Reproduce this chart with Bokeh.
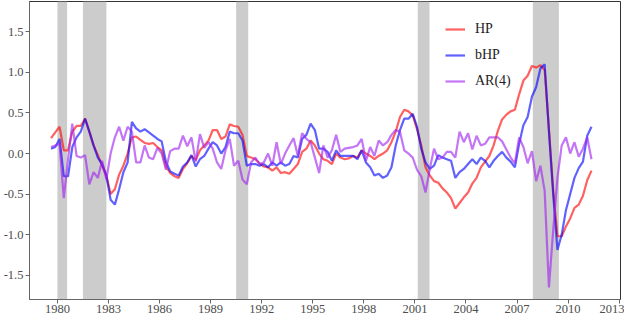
import pandas as pd
from bokeh.plotting import figure
from bokeh.models import BoxAnnotation, FixedTicker, Range1d, PrintfTickFormatter, Legend, LegendItem
from bokeh.embed import file_html
from bokeh.resources import INLINE

# quarterly observations 1979Q3 .. 2011Q2
quarters = pd.period_range("1979Q3", "2011Q2", freq="Q")
t = list(quarters.year + (quarters.quarter - 1) / 4 + 0.125)

hp = [0.19, 0.26, 0.33, 0.04, 0.04, 0.27, 0.34, 0.34, 0.43, 0.27,
      0.10, -0.02, -0.15, -0.27, -0.50, -0.44, -0.26, -0.15, 0.00, 0.20,
      0.21, 0.17, 0.13, 0.12, 0.13, 0.08, 0.04, -0.16, -0.24, -0.28,
      -0.30, -0.19, -0.12, -0.03, -0.08, 0.04, 0.10, 0.16, 0.29, 0.29,
      0.18, 0.21, 0.36, 0.34, 0.33, 0.23, -0.03, -0.05, -0.07, -0.12,
      -0.16, -0.17, -0.21, -0.17, -0.24, -0.23, -0.25, -0.19, -0.13, 0.02,
      0.06, 0.16, 0.10, 0.00, -0.07, -0.09, -0.13, 0.00, -0.05, -0.07,
      -0.06, -0.03, -0.05, 0.04, 0.00, -0.03, -0.07, -0.03, 0.00, 0.04,
      0.14, 0.27, 0.45, 0.54, 0.52, 0.47, 0.30, 0.10, -0.17, -0.27,
      -0.34, -0.36, -0.43, -0.48, -0.55, -0.68, -0.61, -0.54, -0.48, -0.37,
      -0.30, -0.17, -0.10, -0.03, 0.10, 0.28, 0.42, 0.48, 0.52, 0.54,
      0.73, 0.90, 0.96, 1.08, 1.06, 1.09, 1.03, 0.30, -0.45, -1.02,
      -1.02, -0.90, -0.80, -0.67, -0.63, -0.52, -0.33, -0.21]

bhp = [0.06, 0.08, 0.18, -0.28, -0.28, 0.08, 0.20, 0.27, 0.43, 0.27,
       0.10, -0.05, -0.13, -0.27, -0.57, -0.63, -0.44, -0.23, -0.11, 0.39,
       0.31, 0.27, 0.30, 0.26, 0.22, 0.18, 0.15, -0.10, -0.22, -0.25,
       -0.27, -0.16, -0.11, -0.02, -0.16, -0.07, -0.03, 0.06, 0.14, 0.10,
       0.00, 0.08, 0.27, 0.25, 0.25, 0.16, -0.15, -0.13, -0.13, -0.15,
       -0.13, -0.17, -0.11, -0.15, -0.11, -0.15, -0.13, -0.03, -0.05, 0.18,
       0.23, 0.37, 0.29, 0.06, 0.06, 0.02, -0.09, 0.04, -0.03, -0.03,
       -0.03, -0.03, -0.07, 0.04, -0.11, -0.17, -0.27, -0.25, -0.30, -0.27,
       -0.17, 0.10, 0.29, 0.43, 0.43, 0.49, 0.33, 0.06, -0.11, -0.19,
       -0.15, -0.02, -0.05, -0.07, -0.09, -0.30, -0.23, -0.19, -0.13, -0.07,
       -0.13, -0.05, -0.09, -0.17, -0.09, -0.03, 0.02, -0.05, -0.10, -0.17,
       0.12, 0.35, 0.45, 0.70, 0.82, 1.05, 1.10, 0.28, -0.50, -1.19,
       -1.00, -0.70, -0.50, -0.30, -0.18, -0.10, 0.22, 0.33]

ar4 = [0.08, 0.10, 0.12, -0.55, -0.07, 0.37, -0.03, -0.05, -0.02, -0.38,
       -0.23, -0.30, -0.09, -0.32, 0.00, 0.20, 0.33, 0.16, 0.33, 0.27,
       -0.11, -0.11, 0.10, -0.05, -0.07, 0.07, 0.00, -0.20, 0.03, 0.06,
       0.06, 0.22, 0.09, 0.20, -0.10, 0.24, 0.07, 0.14, 0.06, -0.11,
       -0.19, 0.04, 0.18, -0.15, -0.09, -0.32, -0.38, -0.11, -0.05, -0.13,
       -0.11, 0.00, -0.15, 0.14, -0.13, 0.00, 0.10, 0.19, -0.03, 0.25,
       0.18, 0.14, -0.05, -0.24, 0.10, -0.05, 0.04, 0.23, 0.02, 0.06,
       0.07, 0.08, 0.10, 0.18, -0.09, 0.08, -0.03, 0.16, 0.10, 0.14,
       0.23, 0.29, 0.27, 0.04, 0.00, -0.05, -0.20, -0.28, -0.48, -0.19,
       0.06, -0.07, -0.05, 0.02, 0.02, -0.05, 0.27, 0.14, 0.25, 0.05,
       0.22, 0.10, 0.12, 0.20, 0.20, 0.20, 0.15, 0.05, -0.05, -0.12,
       0.20, 0.08, -0.12, 0.03, -0.34, -0.15, -0.46, -1.65, -0.95, -0.30,
       0.10, 0.20, 0.00, 0.14, -0.04, 0.06, 0.20, -0.07]

rec_start = [1980.0, 1981.5, 1990.5, 2001.17, 2007.93]
rec_end = [1980.57, 1982.88, 1991.21, 2001.86, 2009.46]

x_ticks = [1980, 1983, 1986, 1989, 1992, 1995, 1998, 2001, 2004, 2007, 2010, 2013]
y_ticks = [-1.5, -1.0, -0.5, 0.0, 0.5, 1.0, 1.5]

series_names = ["HP", "bHP", "AR(4)"]
series_colors = ["#ff0000", "#0000ff", "#a020f0"]

p = figure(width=624, height=315, output_backend="svg", toolbar_location=None,
           x_range=Range1d(1978.36, 2013.08), y_range=Range1d(-1.8, 1.875),
           min_border_left=26, min_border_right=4, min_border_top=1, min_border_bottom=0)

for s, e in zip(rec_start, rec_end):
    p.add_layout(BoxAnnotation(left=s, right=e, fill_color="#cccccc", fill_alpha=1.0,
                               line_alpha=0, level="underlay"))

items = []
for name, vals, col in zip(series_names, [hp, bhp, ar4], series_colors):
    r = p.line(t, vals, line_color=col, line_alpha=0.62, line_width=2.2)
    items.append(LegendItem(label=name, renderers=[r]))

legend = Legend(items=items, location=(416, 208), border_line_color=None,
                background_fill_alpha=0, label_text_font="Liberation Serif",
                label_text_font_size="14px", label_text_color="#222222",
                glyph_width=20, glyph_height=20, label_height=20, spacing=6,
                padding=5, margin=0, label_standoff=10)
p.add_layout(legend)

p.xgrid.visible = False
p.ygrid.visible = False
p.outline_line_color = "#333333"
p.outline_line_width = 1

for ax in (p.xaxis[0], p.yaxis[0]):
    ax.axis_line_color = "#666666"
    ax.major_tick_line_color = "#666666"
    ax.major_tick_out = 4
    ax.major_tick_in = 0
    ax.minor_tick_out = 0
    ax.minor_tick_in = 0
    ax.major_label_text_font = "Liberation Serif"
    ax.major_label_text_color = "#4d4d4d"
    ax.major_label_text_font_size = "12.5px"

p.xaxis.major_label_standoff = 1
p.yaxis.major_label_standoff = 2
p.xaxis.ticker = FixedTicker(ticks=x_ticks)
p.xaxis.formatter = PrintfTickFormatter(format="%d")
p.yaxis.ticker = FixedTicker(ticks=y_ticks)
p.yaxis.formatter = PrintfTickFormatter(format="%.1f")

open("out.html", "w").write(file_html(p, INLINE))
